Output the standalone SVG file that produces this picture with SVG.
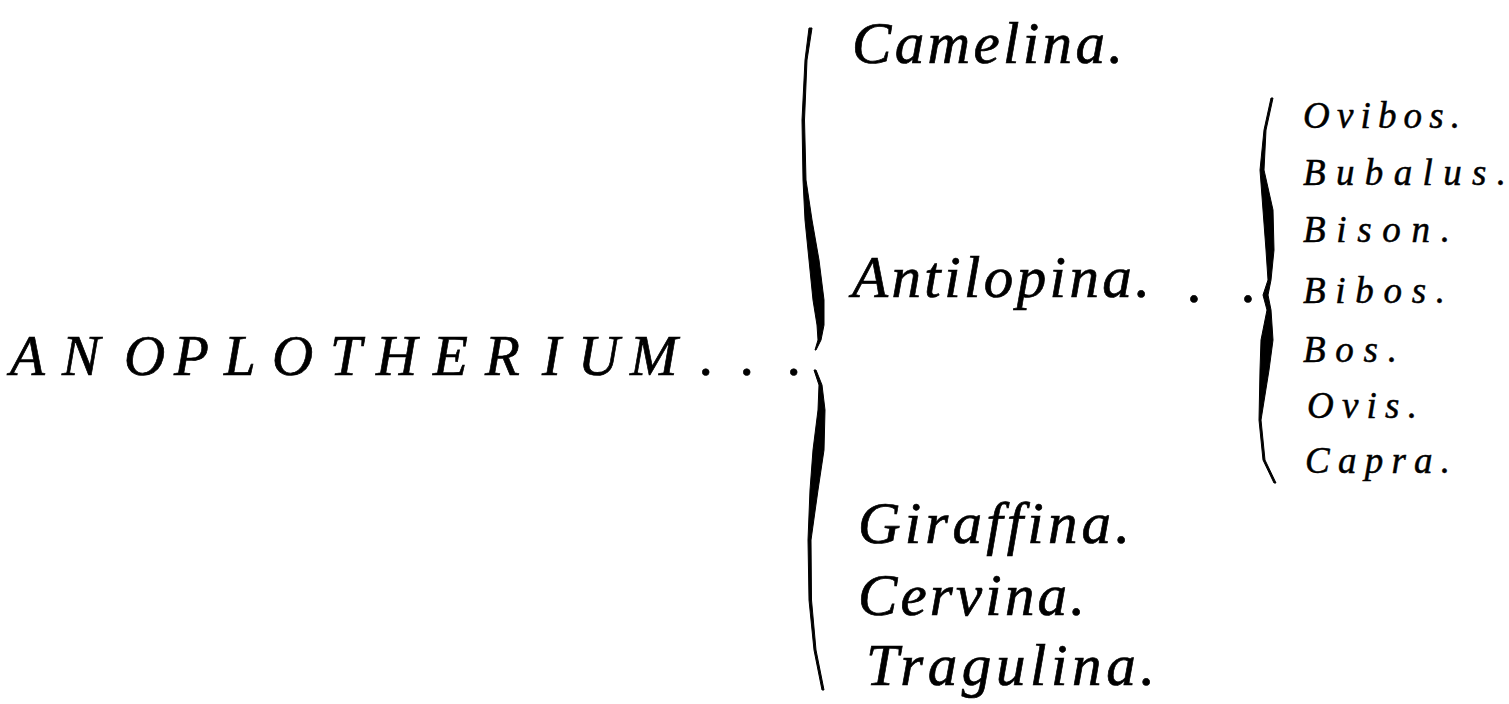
<svg xmlns="http://www.w3.org/2000/svg" width="1509" height="704" viewBox="0 0 1509 704">
<style>
text { font-family: "Liberation Serif", "DejaVu Serif", serif; font-style: italic; fill: #000; stroke: #000; stroke-width: 0.7; }
.root { font-size: 57px; }
.mid { font-size: 59px; }
.small { font-size: 37px; stroke-width: 0.5; }
.brace { fill: #000; stroke: #000; stroke-width: 1; stroke-linejoin: round; }
</style>
<rect width="1509" height="704" fill="#fff"/>
<g id="connectors">
  <path class="brace" d="M809,28 L805,60 L802,120 L803,180 L805,220 L809,260 L813,300 L817,325 L818,340 L815,350 L816,350 L821,340 L824,325 L824,300 L819,260 L812,220 L806,180 L804.5,120 L807,60 L812,28 Z"/>
  <path class="brace" d="M814,370 L819,385 L818,410 L813,450 L810,490 L808,540 L809,600 L814,650 L822,690 L824,690 L816,650 L811.5,600 L811,540 L818,490 L824,450 L825,410 L822,385 L816,370 Z"/>
  <path class="brace" d="M1271,98 L1264,130 L1260,170 L1263,210 L1266,250 L1268,280 L1263,295 L1267,310 L1261,340 L1260,370 L1259,420 L1263,460 L1274,483 L1276,483 L1265,460 L1261,420 L1269,370 L1273,340 L1271,310 L1268,295 L1271,280 L1274,250 L1273,210 L1264,170 L1266,130 L1273,98 Z"/>
</g>
<g id="anoplotherium"><text class="root" x="10 62 124 174 224 272 330 376 433 485 542 578 630" y="375">ANOPLOTHERIUM</text><text class="root" x="700 741 788" y="375">...</text></g>
<g id="camelina"><text class="mid" x="852" y="63" textLength="271" lengthAdjust="spacing">Camelina.</text></g>
<g id="antilopina"><text class="mid" x="852" y="297" textLength="298" lengthAdjust="spacing">Antilopina.</text><text class="mid" x="1188 1242" y="302">..</text></g>
<g id="giraffina"><text class="mid" x="858" y="543" textLength="272" lengthAdjust="spacing">Giraffina.</text></g>
<g id="cervina"><text class="mid" x="858" y="615" textLength="227" lengthAdjust="spacing">Cervina.</text></g>
<g id="tragulina"><text class="mid" x="866" y="685" textLength="289" lengthAdjust="spacing">Tragulina.</text></g>
<g id="ovibos"><text class="small" x="1303" y="128" textLength="157" lengthAdjust="spacing">Ovibos.</text></g>
<g id="bubalus"><text class="small" x="1303" y="185" textLength="203" lengthAdjust="spacing">Bubalus.</text></g>
<g id="bison"><text class="small" x="1303" y="242" textLength="147" lengthAdjust="spacing">Bison.</text></g>
<g id="bibos"><text class="small" x="1303" y="303" textLength="142" lengthAdjust="spacing">Bibos.</text></g>
<g id="bos"><text class="small" x="1303" y="362" textLength="94" lengthAdjust="spacing">Bos.</text></g>
<g id="ovis"><text class="small" x="1307" y="418" textLength="110" lengthAdjust="spacing">Ovis.</text></g>
<g id="capra"><text class="small" x="1305" y="473" textLength="145" lengthAdjust="spacing">Capra.</text></g>
</svg>
